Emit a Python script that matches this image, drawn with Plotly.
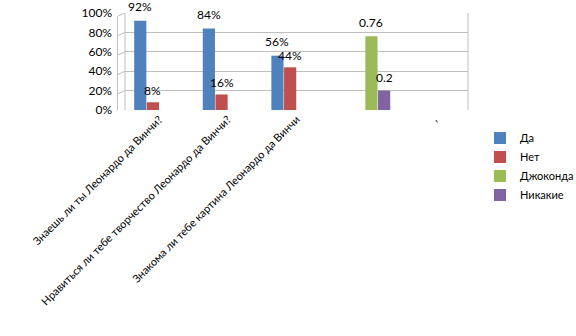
import plotly.graph_objects as go

categories = ["Знаешь ли ты Леонардо да Винчи?",
              "Нравиться ли тебе творчество Леонардо да Винчи?",
              "Знакома ли тебе картина Леонардо да Винчи",
              " ",
              ","]
positions = [0, 1, 2, 3, 4]
da = [0.92, 0.84, 0.56, None, None]
net = [0.08, 0.16, 0.44, None, None]
dzhokonda = [None, None, None, 0.76, None]
nikakie = [None, None, None, 0.20, None]
da_text = ["92%", "84%", "56%", "", ""]
net_text = ["8%", "16%", "44%", "", ""]
dzh_text = ["", "", "", "0.76", ""]
nik_text = ["", "", "", "0.2", ""]

series = [
    ("Да", da, da_text, "#4F81BD", 6),
    ("Нет", net, net_text, "#C0504D", 3),
    ("Джоконда", dzhokonda, dzh_text, "#9BBB59", 5),
    ("Никакие", nikakie, nik_text, "#8064A2", 5),
]

W, H = 576, 336
ML, MR, MT, MB = 125, 108, 13, 226
BARGAP = 0.26
plot_w = W - ML - MR
slot_px = plot_w / len(positions) * (1 - BARGAP) / len(series)

fig = go.Figure()
annotations = []
for i, (name, vals, txt, col, ysh) in enumerate(series):
    fig.add_trace(go.Bar(
        x=positions, y=vals, name=name,
        marker=dict(color=col, line=dict(color=col, width=0)),
    ))
    for p, v, t in zip(positions, vals, txt):
        if v is None:
            continue
        annotations.append(dict(
            x=p, y=v, xref="x", yref="y", text=t, showarrow=False,
            xanchor="center", yanchor="bottom", borderpad=0,
            xshift=(i - (len(series) - 1) / 2) * slot_px, yshift=ysh,
            font=dict(family="Lato", size=12, color="#000000"),
        ))

# pseudo-3D box edges
grid = "#BFBFBF"
dx, dy = -0.022, -0.035
shapes = []
for v in [0, 0.2, 0.4, 0.6, 0.8, 1.0]:
    shapes.append(dict(type="line", xref="paper", yref="y", x0=dx, y0=v + dy, x1=0, y1=v,
                       line=dict(color=grid, width=1)))
shapes.append(dict(type="line", xref="paper", yref="y", x0=dx, y0=dy, x1=dx, y1=1 + dy,
                   line=dict(color=grid, width=1)))
shapes.append(dict(type="line", xref="paper", yref="y", x0=0, y0=0, x1=0, y1=1,
                   line=dict(color=grid, width=1)))
shapes.append(dict(type="line", xref="paper", yref="y", x0=1, y0=0, x1=1, y1=1,
                   line=dict(color=grid, width=1)))
shapes.append(dict(type="line", xref="paper", yref="y", x0=dx, y0=dy, x1=1 + dx, y1=dy,
                   line=dict(color=grid, width=1)))
shapes.append(dict(type="line", xref="paper", yref="y", x0=1 + dx, y0=dy, x1=1, y1=0,
                   line=dict(color=grid, width=1)))

fig.update_layout(
    width=W, height=H,
    margin=dict(l=ML, r=MR, t=MT, b=MB, autoexpand=False),
    paper_bgcolor="white", plot_bgcolor="white",
    barmode="group", bargap=BARGAP, bargroupgap=0.04,
    font=dict(family="Lato", size=11, color="#000000"),
    shapes=shapes,
    annotations=annotations,
    showlegend=True,
    legend=dict(x=1.035, y=-0.14, xanchor="left", yanchor="top",
                font=dict(family="Lato", size=11, color="#000000"),
                itemwidth=30, tracegroupgap=0, bgcolor="rgba(0,0,0,0)"),
    xaxis=dict(tickmode="array", tickvals=positions, ticktext=categories,
               range=[-0.5, 4.5], tickangle=-45, showgrid=False, zeroline=False,
               showline=False, ticks="", automargin=False,
               tickfont=dict(family="Lato", size=11, color="#000000")),
    yaxis=dict(range=[0, 1], dtick=0.2, tickformat=".0%", showgrid=True,
               gridcolor=grid, gridwidth=1, zeroline=False, showline=False,
               ticks="", ticklabelstandoff=12, automargin=False,
               tickfont=dict(family="Lato", size=12, color="#000000")),
)

fig.write_html("out.html")
